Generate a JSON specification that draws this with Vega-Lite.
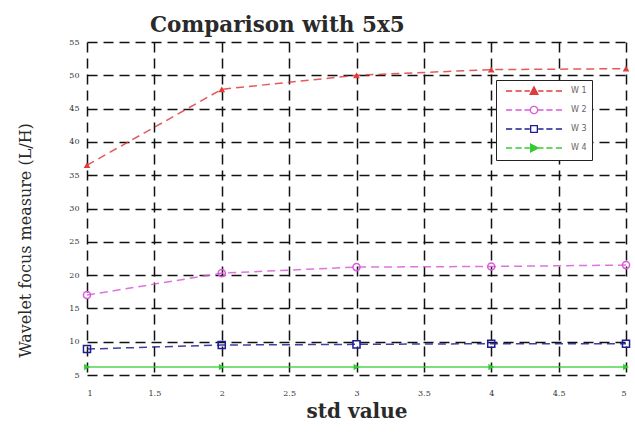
{
  "$schema": "https://vega.github.io/schema/vega-lite/v6.json",
  "width": 539,
  "height": 333,
  "autosize": {"type": "none"},
  "padding": {"left": 87, "top": 42, "right": 9, "bottom": 59},
  "background": "white",
  "title": {
    "text": "Comparison with 5x5",
    "font": "DejaVu Serif",
    "fontSize": 21.5,
    "fontWeight": "bold",
    "color": "#2a2a2a",
    "anchor": "start",
    "frame": "group",
    "dx": 63,
    "offset": 2
  },
  "config": {
    "view": {"stroke": null},
    "axis": {
      "grid": true,
      "gridColor": "#111",
      "gridDash": [10, 6],
      "gridWidth": 1.5,
      "gridOpacity": 1,
      "domain": false,
      "ticks": false,
      "labelFont": "DejaVu Serif",
      "labelFontSize": 8,
      "labelColor": "#333",
      "titleFont": "DejaVu Serif",
      "titleColor": "#2a2a2a"
    }
  },
  "data": {
    "values": [
      {"std": 1, "series": "W 1", "value": 36.5},
      {"std": 2, "series": "W 1", "value": 47.9},
      {"std": 3, "series": "W 1", "value": 50.0},
      {"std": 4, "series": "W 1", "value": 50.85},
      {"std": 5, "series": "W 1", "value": 51.0},
      {"std": 1, "series": "W 2", "value": 17.0},
      {"std": 2, "series": "W 2", "value": 20.3},
      {"std": 3, "series": "W 2", "value": 21.2},
      {"std": 4, "series": "W 2", "value": 21.3},
      {"std": 5, "series": "W 2", "value": 21.5},
      {"std": 1, "series": "W 3", "value": 8.9},
      {"std": 2, "series": "W 3", "value": 9.5},
      {"std": 3, "series": "W 3", "value": 9.6},
      {"std": 4, "series": "W 3", "value": 9.7},
      {"std": 5, "series": "W 3", "value": 9.7},
      {"std": 1, "series": "W 4", "value": 6.2},
      {"std": 2, "series": "W 4", "value": 6.2},
      {"std": 3, "series": "W 4", "value": 6.2},
      {"std": 4, "series": "W 4", "value": 6.2},
      {"std": 5, "series": "W 4", "value": 6.2}
    ]
  },
  "encoding": {
    "x": {
      "field": "std",
      "type": "quantitative",
      "scale": {"domain": [1, 5], "nice": false, "zero": false},
      "axis": {
        "values": [1, 1.5, 2, 2.5, 3, 3.5, 4, 4.5, 5],
        "format": "~g",
        "labelPadding": 14,
        "title": "std value",
        "titleFontSize": 20,
        "titleFontWeight": "bold",
        "titleBaseline": "middle",
        "titleY": 36
      }
    },
    "y": {
      "field": "value",
      "type": "quantitative",
      "scale": {"domain": [5, 55], "nice": false, "zero": false},
      "axis": {
        "values": [5, 10, 15, 20, 25, 30, 35, 40, 45, 50, 55],
        "labelPadding": 8,
        "title": "Wavelet focus measure (L/H)",
        "titleFontSize": 16,
        "titleFontWeight": "normal",
        "titleX": -62,
        "titleY": 198,
        "titleBaseline": "middle"
      }
    }
  },
  "layer": [
    {
      "mark": {"type": "line", "strokeWidth": 1.5, "opacity": 0.85},
      "encoding": {
        "strokeDash": {
          "condition": {"test": "datum.series == 'W 4'", "value": [1, 0]},
          "value": [8, 5]
        },
        "color": {
          "field": "series",
          "type": "nominal",
          "scale": {
            "domain": ["W 1", "W 2", "W 3", "W 4"],
            "range": ["#e03c3c", "#d85ad8", "#1e1e90", "#33cc33"]
          },
          "legend": {
            "title": null,
            "orient": "none",
            "legendX": 409,
            "legendY": 38,
            "strokeColor": "#222",
            "fillColor": "white",
            "padding": 5,
            "rowPadding": 6,
            "labelFont": "DejaVu Sans",
            "labelFontSize": 8,
            "labelColor": "#666",
            "labelExpr": "datum.label + '            '",
            "symbolSize": 100,
            "symbolStrokeWidth": 1.3,
            "symbolOpacity": 1,
            "symbolDash": [1, 0],
            "symbolOffset": 27,
            "labelOffset": 31,
            "symbolType": {"expr": "datum.value == 'W 1' ? 'M-5.6,0H-4.37M-3.7,0H-2.46M-1.9,0H-0.84M0,-0.84L0.78,0.67L-0.78,0.67ZM0.84,0H1.9M2.46,0H3.7M4.37,0H5.6' : datum.value == 'W 2' ? 'M-5.6,0H-4.37M-3.7,0H-2.46M-1.9,0H-0.84M0.73,0A0.73,0.73 0 1,1 -0.73,0A0.73,0.73 0 1,1 0.73,0ZM0.84,0H1.9M2.46,0H3.7M4.37,0H5.6' : datum.value == 'W 3' ? 'M-5.6,0H-4.37M-3.7,0H-2.46M-1.9,0H-0.84M-0.67,-0.67H0.67V0.67H-0.67ZM0.84,0H1.9M2.46,0H3.7M4.37,0H5.6' : 'M-5.6,0H-4.37M-3.7,0H-2.46M-1.9,0H-0.84M-0.67,-0.78L0.84,0L-0.67,0.78ZM0.84,0H1.9M2.46,0H3.7M4.37,0H5.6'"},
            "symbolFillColor": {"expr": "datum.value == 'W 1' ? '#e03c3c' : datum.value == 'W 4' ? '#33cc33' : 'white'"}
          }
        }
      }
    },
    {
      "transform": [{"filter": "datum.series == 'W 1'"}],
      "mark": {"type": "point", "shape": "triangle-up", "filled": true, "color": "#e03c3c", "size": 45, "opacity": 1}
    },
    {
      "transform": [{"filter": "datum.series == 'W 2'"}],
      "mark": {"type": "point", "shape": "circle", "filled": false, "color": "#d85ad8", "size": 50, "strokeWidth": 1.5, "opacity": 1}
    },
    {
      "transform": [{"filter": "datum.series == 'W 3'"}],
      "mark": {"type": "point", "shape": "square", "filled": false, "color": "#1e1e90", "size": 50, "strokeWidth": 1.5, "opacity": 1}
    },
    {
      "transform": [{"filter": "datum.series == 'W 4'"}],
      "mark": {"type": "point", "shape": "triangle-right", "filled": true, "color": "#33cc33", "size": 45, "opacity": 1}
    }
  ]
}
